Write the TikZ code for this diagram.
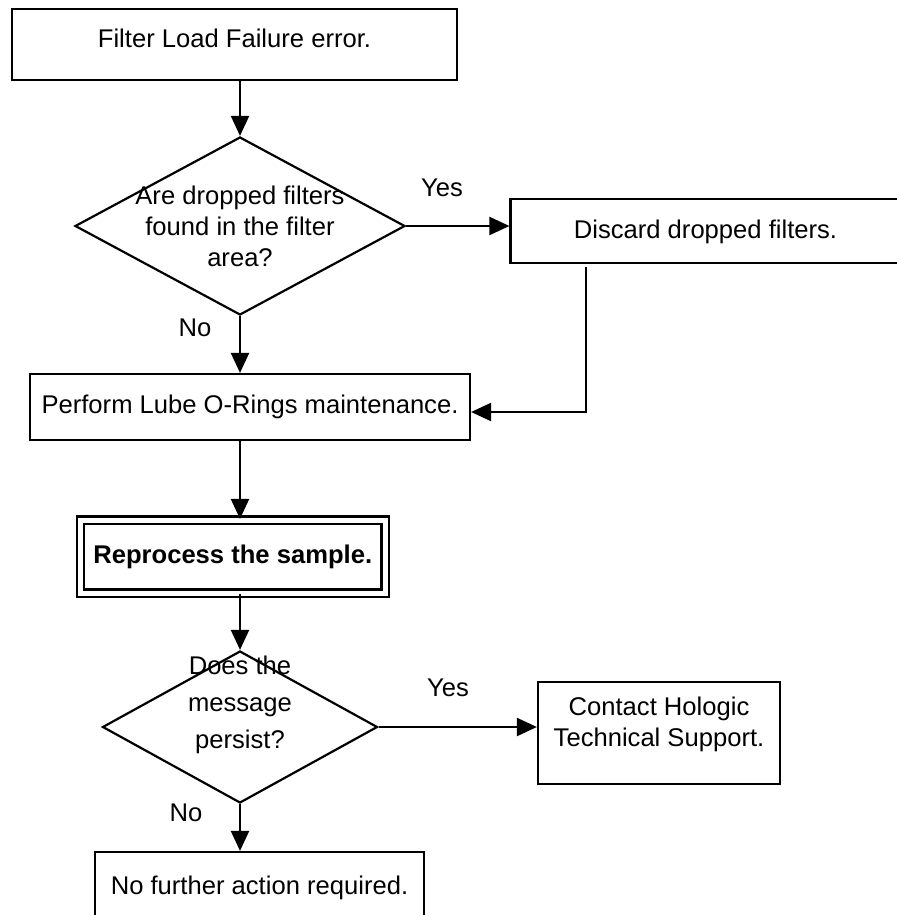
\documentclass[tikz,border=0pt]{standalone}
\usepackage{fontspec}
\setmainfont{Liberation Sans}
\usetikzlibrary{arrows.meta,shapes.geometric}

\begin{document}
\begin{tikzpicture}[
  x=0.5pt,y=-0.5pt,
  box/.style={draw,line width=1.1pt,align=center,inner sep=0pt,font=\fontsize{12.8}{15.5}\selectfont},
  decision/.style={draw,diamond,line width=1.1pt,inner sep=0pt},
  txt/.style={align=center,inner sep=0pt,font=\fontsize{12.8}{15.5}\selectfont},
  arrow/.style={-{Triangle[length=10pt,width=9pt]},line width=1.1pt}
]
\useasboundingbox (0,0) rectangle (897,915);
\clip (0,0) rectangle (897,915);
\node[box,minimum width=222.5pt,minimum height=35.5pt,text depth=6pt] (start) at (234.5,44.5) {Filter Load Failure error.};
\node[decision,minimum width=165pt,minimum height=89pt] (q1) at (240,226) {};
\node[txt] (q1text) at (240,226) {Are dropped filters\\found in the filter\\area?};
\node[box,minimum width=195pt,minimum height=32pt,text depth=2pt] (discard) at (705.5,231) {Discard dropped filters.};
\node[box,minimum width=220pt,minimum height=33pt] (perform) at (250,407) {Perform Lube O-Rings maintenance.};
\node[box,double,double distance=2.5pt,minimum width=152.25pt,minimum height=36.5pt,font=\fontsize{12.8}{15.5}\selectfont\bfseries] (reprocess) at (232.75,556.5) {Reprocess the sample.};
\node[decision,minimum width=137.5pt,minimum height=76pt] (q2) at (240,727) {};
\node[txt,font=\fontsize{12.8}{18.5}\selectfont] (q2text) at (240,705) {Does the\\message\\persist?};
\node[box,minimum width=121pt,minimum height=51pt,text depth=11.5pt] (contact) at (659,733) {Contact Hologic\\Technical Support.};
\node[box,minimum width=164.5pt,minimum height=36pt] (done) at (259.5,888) {No further action required.};
\node[txt] (yes1) at (442,188) {Yes};
\node[txt] (no1) at (195,328) {No};
\node[txt] (yes2) at (448,688) {Yes};
\node[txt] (no2) at (186,813) {No};
\coordinate (bend) at (586,412);
\draw[arrow] (q1.north |- start.south) -- (q1.north);
\draw[arrow] (q1.east) -- (q1.east -| discard.west);
\draw[arrow] (q1.south) -- (q1.south |- perform.north);
\draw[arrow] ([yshift=-1.5pt]discard.south -| bend) -- (bend) -- (bend -| perform.east);
\draw[arrow] (perform.south -| q1.south) -- (reprocess.north -| q1.south);
\draw[arrow] (reprocess.south -| q2.north) -- (q2.north);
\draw[arrow] (q2.east) -- (q2.east -| contact.west);
\draw[arrow] (q2.south) -- (q2.south |- done.north);
\end{tikzpicture}
\end{document}
